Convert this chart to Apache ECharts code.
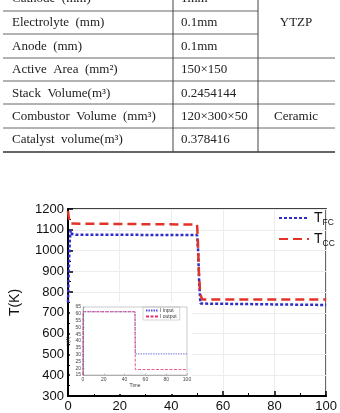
<!DOCTYPE html>
<html><head><meta charset="utf-8">
<script src="https://cdn.jsdelivr.net/npm/echarts@6/dist/echarts.min.js"></script>
<style>html,body{margin:0;padding:0;background:#fff}#c{width:340px;height:413px}</style>
</head><body><div id="c"></div>
<script>
// ---- table data ----
const tableLabels = ['Cathode  (mm)', 'Electrolyte  (mm)', 'Anode  (mm)', 'Active  Area  (mm²)', 'Stack  Volume(m³)', 'Combustor  Volume  (mm³)', 'Catalyst  volume(m³)'];
const tableValues = ['1mm', '0.1mm', '0.1mm', '150×150', '0.2454144', '120×300×50', '0.378416'];
const tableMaterials = ['', 'YTZP', '', '', '', 'Ceramic', ''];

// ---- main chart data ----
const xTicks = [0, 20, 40, 60, 80, 100];
const yTicks = [300, 400, 500, 600, 700, 800, 900, 1000, 1100, 1200];
const tfcTime = [0, 0.3, 0.7, 1, 1.5, 3, 50, 50.4, 50.8, 51.3, 52, 100];
const tfcValues = [750, 900, 1050, 1098, 1080, 1076, 1075, 1000, 850, 745, 738, 738];
const tccTime = [0, 0.3, 0.8, 1.5, 50, 50.3, 50.7, 51.2, 52, 100];
const tccValues = [1190, 1160, 1130, 1125, 1125, 1050, 900, 790, 765, 765];

// ---- inset data ----
const insetTime = [0, 0.2, 50, 50.3, 100];
const inputValues = [15, 61.5, 61.5, 30.5, 30.5];
const outputValues = [15, 61.5, 61.5, 19, 19];

const zip = (a, b) => a.map((v, i) => [v, b[i]]);

// table geometry
const rowY = [-1, 23, 46.5, 70, 93.5, 116.5, 140];
const hLines = [[11, 258], [34, 258], [58, 335], [81, 335], [104, 335], [128, 335], [152, 335]];
const serif = '"Liberation Serif", "DejaVu Serif", serif';
const graphics = [];
tableLabels.forEach((t, i) => {
  graphics.push({type: 'text', style: {text: t, x: 12, y: rowY[i], fontSize: 13, fontFamily: serif, fill: '#222', verticalAlign: 'middle'}});
  graphics.push({type: 'text', style: {text: tableValues[i], x: 181, y: rowY[i], fontSize: 13, fontFamily: serif, fill: '#222', verticalAlign: 'middle'}});
  if (tableMaterials[i]) graphics.push({type: 'text', style: {text: tableMaterials[i], x: 296, y: rowY[i], fontSize: 13, fontFamily: serif, fill: '#222', verticalAlign: 'middle', align: 'center'}});
});
hLines.forEach(([y, x2], i) => graphics.push({type: 'line', shape: {x1: 3, y1: y, x2: x2, y2: y}, style: {stroke: i === hLines.length - 1 ? '#333' : '#666', lineWidth: i === hLines.length - 1 ? 1.5 : 1}}));
[173, 258].forEach(x => graphics.push({type: 'line', shape: {x1: x, y1: 0, x2: x, y2: 152}, style: {stroke: '#444', lineWidth: 1}}));
// inset white background
graphics.push({type: 'rect', z: 1, shape: {x: 70, y: 302, width: 122, height: 92}, style: {fill: '#fff'}});

const sans = '"Liberation Sans", Arial, sans-serif';
const blue = '#2f2fc8', red = '#e23328';

const chart = echarts.init(document.getElementById('c'));
chart.setOption({
  animation: false,
  backgroundColor: '#fff',
  graphic: graphics,
  grid: [
    {left: 61, top: 209, width: 271, height: 187, show: true, borderColor: '#000', borderWidth: 1.5, z: 0},
    {left: 83, top: 307, width: 104, height: 68, show: true, borderColor: '#aaa', borderWidth: 0.6, z: 3}
  ],
  legend: [
    {
      data: ['TFC', 'TCC'], orient: 'vertical', left: 278, top: 211, padding: 0, itemWidth: 30, itemHeight: 14, itemGap: 5,
      itemStyle: {opacity: 0},
      formatter: n => n === 'TFC' ? '{t|T}{s|FC}' : '{t|T}{s|CC}',
      textStyle: {fontFamily: sans, color: '#111', rich: {t: {fontSize: 14, fontFamily: sans, color: '#111'}, s: {fontSize: 8.5, fontFamily: sans, color: '#111', padding: [9, 0, 0, 0]}}}
    },
    {
      data: ['I input', 'I output'], orient: 'vertical', left: 143, top: 307, itemWidth: 12, itemHeight: 4, itemGap: 1, padding: [1, 3, 1, 2],
      itemStyle: {opacity: 0},
      borderColor: '#aaa', borderWidth: 0.5, z: 5,
      textStyle: {fontSize: 5, fontFamily: sans, color: '#333', padding: [0, 0, 0, -3]}
    }
  ],
  xAxis: [
    {
      gridIndex: 0, type: 'value', min: 0, max: 100, interval: 20,
      axisLine: {lineStyle: {color: '#000', width: 2}},
      axisTick: {inside: true, length: 5, lineStyle: {color: '#000', width: 1.5}},
      minorTick: {show: true, splitNumber: 2, length: 3, lineStyle: {color: '#000'}},
      axisLabel: {fontSize: 13, fontFamily: sans, color: '#111', margin: 4, formatter: v => xTicks.includes(v) ? String(v) : ''},
      splitLine: {show: true, lineStyle: {color: '#ececec', width: 1}}
    },
    {
      gridIndex: 1, type: 'value', min: 0, max: 100, interval: 20, z: 3,
      name: 'Time', nameLocation: 'middle', nameGap: 8, nameTextStyle: {fontSize: 5, fontFamily: sans, color: '#333'},
      axisLine: {lineStyle: {color: '#888', width: 0.6}},
      axisTick: {inside: true, length: 1.5, lineStyle: {color: '#888', width: 0.5}},
      axisLabel: {fontSize: 5, fontFamily: sans, color: '#444', margin: 2},
      splitLine: {show: false}
    }
  ],
  yAxis: [
    {
      gridIndex: 0, type: 'value', min: 300, max: 1200, interval: 100,
      name: 'T(K)', nameLocation: 'middle', nameGap: 46, nameTextStyle: {fontSize: 14, fontFamily: sans, color: '#111'},
      axisLine: {lineStyle: {color: '#000', width: 2}},
      axisTick: {inside: true, length: 5, lineStyle: {color: '#000', width: 1.5}},
      minorTick: {show: true, splitNumber: 2, length: 3, lineStyle: {color: '#000'}},
      axisLabel: {fontSize: 13, fontFamily: sans, color: '#111', margin: 4, formatter: v => yTicks.includes(v) ? String(v) : ''},
      splitLine: {show: true, lineStyle: {color: '#ececec', width: 1}}
    },
    {
      gridIndex: 1, type: 'value', min: 15, max: 65, interval: 5, z: 3,
      name: 'I (A)', nameLocation: 'middle', nameGap: 8, nameTextStyle: {fontSize: 5, fontFamily: sans, color: '#333'},
      axisLine: {lineStyle: {color: '#888', width: 0.6}},
      axisTick: {inside: true, length: 1.5, lineStyle: {color: '#888', width: 0.5}},
      axisLabel: {fontSize: 5, fontFamily: sans, color: '#444', margin: 2},
      splitLine: {show: false}
    }
  ],
  series: [
    {name: 'TFC', type: 'line', xAxisIndex: 0, yAxisIndex: 0, data: zip(tfcTime, tfcValues), symbol: 'none', z: 4,
      lineStyle: {color: blue, width: 2.5, type: [3, 2]}, itemStyle: {color: blue}},
    {name: 'TCC', type: 'line', xAxisIndex: 0, yAxisIndex: 0, data: zip(tccTime, tccValues), symbol: 'none', z: 5,
      lineStyle: {color: red, width: 2.5, type: [9, 5]}, itemStyle: {color: red}},
    {name: 'I input', type: 'line', xAxisIndex: 1, yAxisIndex: 1, data: zip(insetTime, inputValues), symbol: 'none', z: 6,
      lineStyle: {color: '#5050d8', width: 0.8, type: [1.5, 1]}, itemStyle: {color: '#5050d8'}},
    {name: 'I output', type: 'line', xAxisIndex: 1, yAxisIndex: 1, data: zip(insetTime, outputValues), symbol: 'none', z: 7,
      lineStyle: {color: '#e0306a', width: 0.8, type: [3, 1.5]}, itemStyle: {color: '#e0306a'}}
  ]
});
</script></body></html>
